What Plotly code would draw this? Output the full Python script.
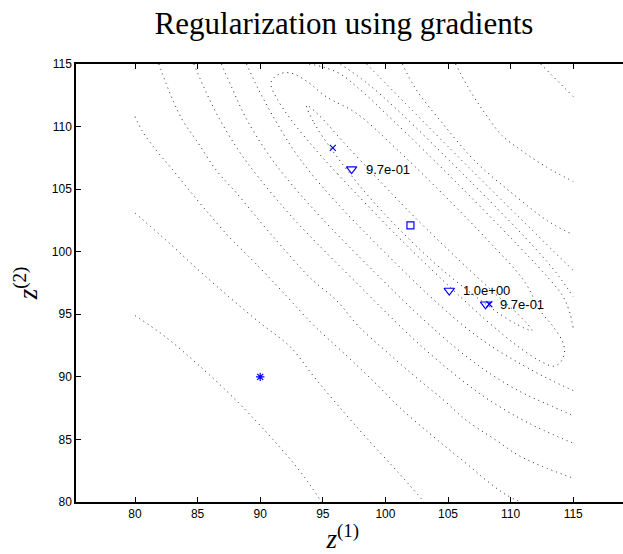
import plotly.graph_objects as go

# ---- contour lines (z1, z2) ----
contour_A = [(80,94.9),(82.3,93.3),(84.9,91.1),(88.1,88.1),(91.1,84.9),(93.3,82.3),(94.9,80)]
contour_B = [(80,103.1),(82.5,100.9),(85,98.6),(87.5,96.4),(90,94.3),(92.4,92.4),(94.3,90),
             (96.4,87.5),(98.6,85),(100.9,82.5),(103.1,80)]
contour_C = [(80,110.8),(80.6,109.6),(81.7,108.1),(82.8,106.8),(84.1,105.2),(85.5,103.5),(87.5,101.2),
             (89.5,99.2),(91.6,97),(94.2,94.2),(97,91.6),(99.2,89.5),(101.2,87.5),(103.5,85.5),
             (105.2,84.1),(106.8,82.8),(108.1,81.7),(109.6,80.6),(110.8,80)]
contour_D = [(81.9,115),(82.9,112.4),(83.8,110.5),(84.9,108.9),(86.5,106.5),(88.1,104.7),(90,102.4),
             (92,100.1),(94,97.9),(96.1,96.1),(97.9,94),(100.1,92),(102.4,90),(104.7,88.1),
             (106.5,86.5),(108.9,84.9),(110.5,83.8),(112.4,82.9),(115,81.9)]
contour_E = [(84.7,115),(85.7,112.7),(86.7,110.7),(88.2,108.2),(89.9,105.9),(92.65,102.65),(95.1,100.1),
             (97.6,97.6),(100.1,95.1),(102.65,92.65),(105.9,89.9),(108.2,88.2),(110.7,86.7),
             (112.7,85.7),(115,84.7)]
contour_F = [(86.9,115),(87.85,112.85),(88.8,110.8),(90.3,108.3),(92.0,106.0),(94.8,102.8),(98.75,98.75),
             (102.8,94.8),(106.0,92.0),(108.3,90.3),(110.8,88.8),(112.85,87.85),(115,86.9)]
contour_G = [(88.9,115),(89.9,112.9),(90.95,110.95),(92.45,108.45),(94.15,106.15),(96.98,102.98),
             (99.95,99.95),(102.98,96.98),(106.15,94.15),(108.45,92.45),(110.95,90.95),(112.9,89.9),
             (115,88.9)]
loop_outer = [(101.1,101.1),(96.2,106.2),(94.3,108.3),(92.5,110.5),(91.3,112.3),(90.85,113.45),
              (91.2,114.0),(91.9,114.3),(92.7,114.2),(93.95,113.45),(95.25,112.4),(97.7,111.05),
              (101.05,108.05),(104.6,104.6),(108.05,101.05),(111.05,97.7),(112.4,95.25),
              (113.45,93.95),(114.2,92.7),(114.3,91.9),(114.0,91.2),(113.45,90.85),(112.3,91.3),
              (110.5,92.5),(108.3,94.3),(106.2,96.2),(101.1,101.1)]
loop_inner = [(93.7,111.7),(94.3,110.3),(95.9,107.9),(98.55,104.55),(101.45,101.45),(104.55,98.55),
              (107.9,95.9),(110.3,94.3),(111.7,93.7),(110.8,94.8),(108.7,96.7),(105.6,99.6),
              (102.55,102.55),(99.6,105.6),(96.7,108.7),(94.8,110.8),(93.7,111.7)]
contour_U1 = [(93.9,115),(95.05,114.75),(96.4,114.2),(97.75,113.15),(100.55,110.55),(105.6,105.6),
              (110.55,100.55),(113.15,97.75),(114.2,96.4),(114.75,95.05),(115,93.9)]
contour_U2 = [(96.4,115),(98.5,113.5),(101.15,111.15),(106.2,106.2),(111.15,101.15),(113.5,98.5),(115,96.4)]
contour_U3 = [(98.5,115),(106.7,106.7),(115,98.5)]
contour_U4 = [(101.35,115),(102.5,112.9),(104.65,110.15),(107.2,107.2),(110.15,104.65),(112.9,102.5),(115,101.35)]
contour_U5 = [(105.6,115),(106.8,112.8),(108.0,111.0),(109.3,109.3),(111.0,108.0),(112.8,106.8),(115,105.6)]
contour_U6 = [(112.4,115),(115,112.4)]

contours = [contour_A, contour_B, contour_C, contour_D, contour_E, contour_F, contour_G,
            loop_outer, loop_inner, contour_U1, contour_U2, contour_U3, contour_U4,
            contour_U5, contour_U6]

# ---- markers ----
star_x, star_y = [90.0], [90.0]
cross_x, cross_y = [95.8, 108.3], [108.3, 95.8]
square_x, square_y = [102.0], [102.1]
tri_x = [97.3, 105.1, 108.0]
tri_y = [106.6, 96.9, 95.8]
tri_labels = ["9.7e-01", "1.0e+00", "9.7e-01"]

x_ticks = [80, 85, 90, 95, 100, 105, 110, 115]
y_ticks = [80, 85, 90, 95, 100, 105, 110, 115]

fig = go.Figure()
for c in contours:
    fig.add_trace(go.Scatter(x=[p[0] for p in c], y=[p[1] for p in c], mode="lines",
                             line=dict(color="#222222", width=1, dash="1px,4px"),
                             line_shape="spline", hoverinfo="skip", showlegend=False))

blue = "#0000ff"
fig.add_trace(go.Scatter(x=star_x, y=star_y, mode="markers",
                         marker=dict(symbol="asterisk-open", size=7, color=blue,
                                     line=dict(color=blue, width=1.2)), showlegend=False))
fig.add_trace(go.Scatter(x=cross_x, y=cross_y, mode="markers",
                         marker=dict(symbol="x-thin-open", size=6, color=blue,
                                     line=dict(color=blue, width=1.2)), showlegend=False))
fig.add_trace(go.Scatter(x=square_x, y=square_y, mode="markers",
                         marker=dict(symbol="square-open", size=7, color=blue,
                                     line=dict(color=blue, width=1.2)), showlegend=False))
fig.add_trace(go.Scatter(x=tri_x, y=tri_y, mode="markers",
                         marker=dict(symbol="triangle-down-open", size=9, color=blue,
                                     line=dict(color=blue, width=1.2)), showlegend=False))

annotations = []
for xv, yv, t in zip(tri_x, tri_y, tri_labels):
    annotations.append(dict(x=xv, y=yv, xref="x", yref="y", text=t, showarrow=False,
                            xanchor="left", yanchor="middle", xshift=12,
                            font=dict(family="Liberation Sans, Arial", size=13, color="black")))

W, H = 623, 554
L, R, T, B = 76, 0, 64, 52
pw, ph = W - L - R, H - T - B

ppu = 12.52
x_lo = 80 - (135 - L) / ppu
x_hi = x_lo + pw / ppu

serif = "Liberation Serif"
fig.update_layout(
    width=W, height=H, margin=dict(l=L, r=R, t=T, b=B, pad=0),
    paper_bgcolor="white", plot_bgcolor="white", showlegend=False,
    annotations=annotations,
    title=dict(text="Regularization using gradients", x=344 / W, xanchor="center",
               xref="container", yref="container", y=1 - 23 / H, yanchor="middle",
               font=dict(family=serif, size=31, color="black")),
)
fig.update_xaxes(range=[x_lo, x_hi], tickvals=x_ticks, ticktext=[str(v) for v in x_ticks],
                 showgrid=False, zeroline=False, showline=True, linecolor="black", linewidth=1.5,
                 ticks="inside", ticklen=5, tickwidth=1, tickcolor="black", mirror="ticks",
                 tickfont=dict(family="Liberation Sans, Arial", size=12, color="black"),
                 title=dict(text="<i>z</i><sup>(1)</sup>&nbsp;&nbsp;", standoff=2,
                            font=dict(family=serif, size=27, color="black")))
fig.update_yaxes(range=[80, 115], tickvals=y_ticks, ticktext=[str(v) for v in y_ticks],
                 showgrid=False, zeroline=False, showline=True, linecolor="black", linewidth=1.5,
                 ticks="inside", ticklen=5, tickwidth=1, tickcolor="black", mirror=False,
                 tickfont=dict(family="Liberation Sans, Arial", size=12, color="black"),
                 title=dict(text="<i>z</i><sup>(2)</sup>", standoff=6,
                            font=dict(family=serif, size=27, color="black")))

fig.write_html("out.html")
